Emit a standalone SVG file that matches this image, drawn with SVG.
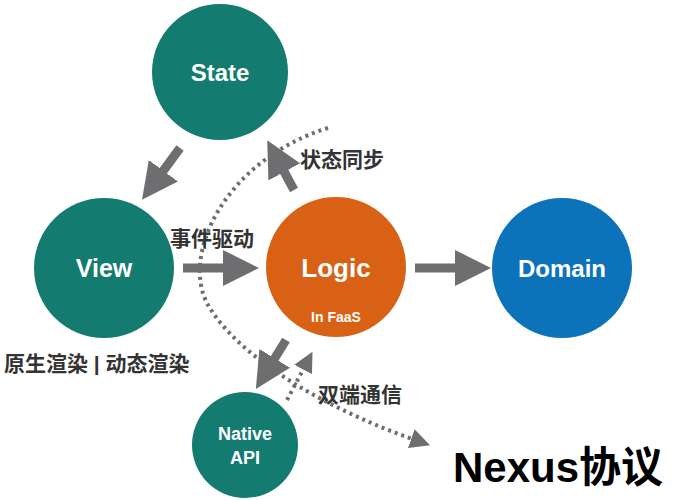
<svg xmlns="http://www.w3.org/2000/svg" width="678" height="500" viewBox="0 0 678 500">
<style>
.n{font-family:"Liberation Sans",Arial,sans-serif;font-weight:bold;fill:#fff;text-anchor:middle}
.l{font-family:"Liberation Sans","Noto Sans CJK SC",sans-serif;font-weight:bold;fill:#333;font-size:21px}
.a{stroke:#6e6e70;stroke-width:9;fill:none}
.d{stroke:#6e6e70;stroke-width:4;stroke-dasharray:3 4;fill:none}
</style>
<defs>
<marker id="ah" markerWidth="4" markerHeight="4" refX="1" refY="2" orient="auto" markerUnits="strokeWidth"><path d="M0,0L4,2L0,4Z" fill="#6e6e70"/></marker>
<marker id="dh" markerWidth="5" markerHeight="5" refX="1" refY="2.5" orient="auto" markerUnits="strokeWidth"><path d="M0,0L5,2.5L0,5Z" fill="#6e6e70"/></marker>
</defs>
<g id="connectors">
<path class="a" d="M180,148L158,178" marker-end="url(#ah)"/>
<path class="a" d="M183,268L232,268" marker-end="url(#ah)"/>
<path class="a" d="M294,190L280,164" marker-end="url(#ah)"/>
<path class="a" d="M415,268L464,268" marker-end="url(#ah)"/>
<path class="a" d="M286,340L270,366" marker-end="url(#ah)"/>
<path class="d" d="M328,128C225,160 180,255 208,305C240,360 330,410 415,440" marker-end="url(#dh)"/>
<path class="d" d="M287,400L305,366" marker-end="url(#dh)"/>
</g>
<g id="state"><circle cx="220" cy="72" r="68" fill="#137b70"/><text class="n" x="220" y="81" font-size="24">State</text></g>
<g id="view"><circle cx="104" cy="268" r="70" fill="#137b70"/><text class="n" x="104" y="277" font-size="25">View</text></g>
<g id="logic"><circle cx="336" cy="267" r="70" fill="#d86116"/><text class="n" x="336" y="277" font-size="26">Logic</text><text class="n" x="336" y="322" font-size="14">In FaaS</text></g>
<g id="domain"><circle cx="562" cy="268" r="70" fill="#0c72b9"/><text class="n" x="562" y="277" font-size="24">Domain</text></g>
<g id="native"><circle cx="245" cy="445" r="53" fill="#137b70"/><text class="n" x="245" y="440" font-size="18">Native</text><text class="n" x="245" y="464" font-size="18">API</text></g>
<text class="l" x="300" y="167">状态同步</text>
<text class="l" x="170" y="246">事件驱动</text>
<text class="l" x="4" y="371">原生渲染 | 动态渲染</text>
<text class="l" x="318" y="402">双端通信</text>
<text x="453" y="482" font-family="Liberation Sans,Noto Sans CJK SC,sans-serif" font-weight="bold" font-size="42" fill="#000">Nexus协议</text>
</svg>
